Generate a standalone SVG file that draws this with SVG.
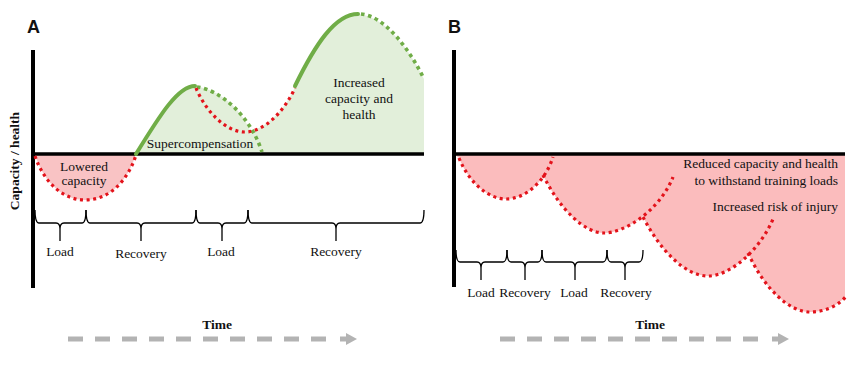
<svg xmlns="http://www.w3.org/2000/svg" width="850" height="391" viewBox="0 0 850 391">
<style>
.serif{font-family:"Liberation Serif","Times New Roman",serif;font-size:13.5px;fill:#111}
.bold{font-weight:bold}
.panel{font-family:"Liberation Sans",Arial,sans-serif;font-size:18px;font-weight:bold;fill:#111}
.axis{stroke:#000;stroke-width:4;fill:none}
.haxis{stroke:#000;stroke-width:3.5;fill:none}
.brace{stroke:#000;stroke-width:1.3;fill:none}
.reddot{stroke:#e3131b;stroke-width:3.2;stroke-dasharray:3 3.6;fill:none}
.greendot{stroke:#70ad47;stroke-width:3.6;stroke-dasharray:3.6 3.6;fill:none}
.green{stroke:#70ad47;stroke-width:4;fill:none;stroke-linecap:round}
.pinkA{fill:#f9c3c4}
.pinkB{fill:#fbbcbd}
.greenfill{fill:#e2efda}
.dash{stroke:#b3b3b3;stroke-width:5;stroke-dasharray:15 12;fill:none}
.arrowstem{stroke:#b3b3b3;stroke-width:5;fill:none}
.arrowhead{fill:#b3b3b3}
</style>

<g id="panelA">
  <text class="panel" x="27" y="33">A</text>
  <g id="fillsA">
    <path class="pinkA" d="M35,154 L35,155 C45,185 65,200 85,200 C110,200 128,180 136,154 Z"/>
    <path class="greenfill" d="M136,154 C160,115 178,86 195,86 C220,90 240,108 250,130 C265,130 285,110 295,87 C315,45 335,14 358,14 C385,16 410,50 424,79 L424,154 Z"/>
  </g>
  <g id="axesA">
    <line class="axis" x1="33" y1="50" x2="33" y2="288"/>
    <line class="haxis" x1="33" y1="154" x2="424" y2="154"/>
  </g>
  <g id="curvesA">
    <path class="reddot" d="M35,156 C45,185 65,200 85,200 C110,200 128,180 136,155"/>
    <path class="green" d="M136,154 C160,115 178,86 195,86"/>
    <path class="greendot" d="M197,87 C220,90 250,115 262,152"/>
    <path class="reddot" d="M196,88 C205,110 225,132 245,132 C265,132 285,110 295,88"/>
    <path class="green" d="M295,86 C315,45 335,14 358,14"/>
    <path class="greendot" d="M361,14 C385,16 410,50 424,79"/>
  </g>
  <g id="labelsA">
    <text class="serif" x="84" y="171" text-anchor="middle">Lowered</text>
    <text class="serif" x="84" y="185" text-anchor="middle">capacity</text>
    <text class="serif" x="200" y="148" text-anchor="middle">Supercompensation</text>
    <text class="serif" x="359" y="87" text-anchor="middle">Increased</text>
    <text class="serif" x="359" y="103" text-anchor="middle">capacity and</text>
    <text class="serif" x="359" y="119" text-anchor="middle">health</text>
    <text class="serif bold" transform="translate(19,161) rotate(-90)" text-anchor="middle">Capacity / health</text>
  </g>
  <g id="bracesA">
    <path class="brace" d="M35,210 Q35,223 39,223 L56,223 Q60,223 60,229 L60,241 M60,229 Q60,223 64,223 L82,223 Q86,223 86,210"/>
    <path class="brace" d="M86,210 Q86,223 90,223 L137,223 Q141,223 141,229 L141,241 M141,229 Q141,223 145,223 L192,223 Q196,223 196,210"/>
    <path class="brace" d="M196,210 Q196,223 200,223 L218,223 Q222,223 222,229 L222,241 M222,229 Q222,223 226,223 L244,223 Q248,223 248,210"/>
    <path class="brace" d="M248,210 Q248,223 252,223 L332,223 Q336,223 336,229 L336,241 M336,229 Q336,223 340,223 L420,223 Q424,223 424,210"/>
    <text class="serif" x="60" y="256" text-anchor="middle">Load</text>
    <text class="serif" x="141" y="258" text-anchor="middle">Recovery</text>
    <text class="serif" x="221" y="256" text-anchor="middle">Load</text>
    <text class="serif" x="336" y="256" text-anchor="middle">Recovery</text>
  </g>
  <g id="timeA">
    <text class="serif bold" x="217" y="329" text-anchor="middle">Time</text>
    <line class="dash" x1="68" y1="339" x2="328" y2="339"/>
    <line class="arrowstem" x1="340" y1="339" x2="348" y2="339"/>
    <polygon class="arrowhead" points="346,333 357,339 346,345"/>
  </g>
</g>

<g id="panelB">
  <text class="panel" x="448" y="33">B</text>
  <g id="fillsB">
    <path class="pinkB" d="M454,154 L459,158 C470,185 490,199 506,199 C525,199 545,182 553,157 L553,154 Z"/>
    <path class="pinkB" d="M543,154 L543,175 C560,210 585,233 604,233 C625,233 660,210 673,177 L673,154 Z"/>
    <path class="pinkB" d="M643,154 L643,217 C660,250 685,276 708,276 C730,276 760,250 773,219 L773,154 Z"/>
    <path class="pinkB" d="M748,154 L748,253 C765,290 790,312 810,312 C825,312 838,305 845,297 L845,154 Z"/>
  </g>
  <g id="axesB">
    <line class="axis" x1="454" y1="50" x2="454" y2="287"/>
    <line class="haxis" x1="454" y1="154" x2="845" y2="154"/>
  </g>
  <g id="curvesB">
    <path class="reddot" d="M459,158 C470,185 490,199 506,199 C525,199 545,182 553,157"/>
    <path class="reddot" d="M543,175 C560,210 585,233 604,233 C625,233 660,210 673,177"/>
    <path class="reddot" d="M643,217 C660,250 685,276 708,276 C730,276 760,250 773,219"/>
    <path class="reddot" d="M748,253 C765,290 790,312 810,312 C825,312 840,305 847,295"/>
  </g>
  <g id="labelsB">
    <text class="serif" x="838" y="168" text-anchor="end">Reduced capacity and health</text>
    <text class="serif" x="838" y="185" text-anchor="end">to withstand training loads</text>
    <text class="serif" x="838" y="211" text-anchor="end">Increased risk of injury</text>
  </g>
  <g id="bracesB">
    <path class="brace" d="M456,250 Q456,262 460,262 L477,262 Q481,262 481,268 L481,280 M481,268 Q481,262 485,262 L503,262 Q507,262 507,250"/>
    <path class="brace" d="M507,250 Q507,262 511,262 L521,262 Q525,262 525,268 L525,280 M525,268 Q525,262 529,262 L538,262 Q542,262 542,250"/>
    <path class="brace" d="M542,250 Q542,262 546,262 L571,262 Q575,262 575,268 L575,280 M575,268 Q575,262 579,262 L603,262 Q607,262 607,250"/>
    <path class="brace" d="M607,250 Q607,262 611,262 L621,262 Q625,262 625,268 L625,280 M625,268 Q625,262 629,262 L639,262 Q643,262 643,250"/>
    <text class="serif" x="481" y="297" text-anchor="middle">Load</text>
    <text class="serif" x="525" y="297" text-anchor="middle">Recovery</text>
    <text class="serif" x="574" y="297" text-anchor="middle">Load</text>
    <text class="serif" x="626" y="297" text-anchor="middle">Recovery</text>
  </g>
  <g id="timeB">
    <text class="serif bold" x="650" y="329" text-anchor="middle">Time</text>
    <line class="dash" x1="500" y1="339" x2="760" y2="339"/>
    <line class="arrowstem" x1="772" y1="339" x2="780" y2="339"/>
    <polygon class="arrowhead" points="778,333 789,339 778,345"/>
  </g>
</g>
</svg>
